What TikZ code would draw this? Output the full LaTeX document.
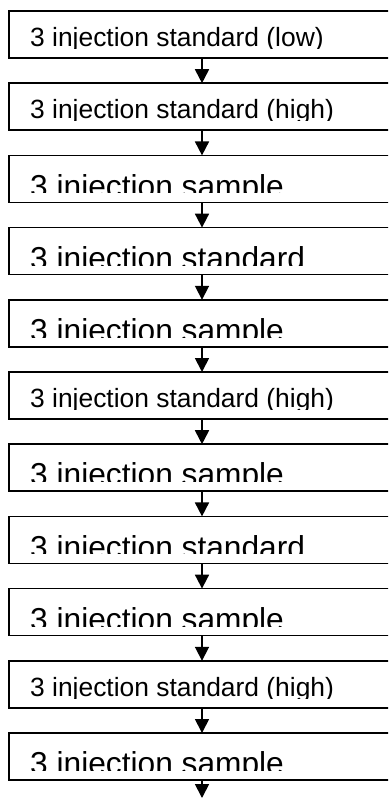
\documentclass[tikz,border=0pt]{standalone}
\usepackage{fontspec}
\setmainfont{Liberation Sans}
\usetikzlibrary{arrows.meta}
\begin{document}
\begin{tikzpicture}[x=1pt,y=-1pt,
  box/.style={draw, line width=1.6pt, minimum width=420pt, minimum height=47pt, anchor=north west, inner sep=0pt, outer sep=0pt},
  small/.style={anchor=base west, inner sep=0pt, font=\fontsize{26.4}{30}\selectfont},
  large/.style={anchor=base west, inner sep=0pt, font=\fontsize{31.7}{36}\selectfont},
  arr/.style={line width=1.8pt, -{Triangle[length=14pt,width=14pt]}}]
\useasboundingbox (0,0) rectangle (388,800);
\clip (0,0) rectangle (388,800);
\foreach \i/\s/\bl/\t in {
  1/small/35.7/{3 injection standard (low)},
  2/small/35.7/{3 injection standard (high)},
  3/large/41.7/{3 injection sample},
  4/large/41.7/{3 injection standard},
  5/large/41.7/{3 injection sample},
  6/small/35.7/{3 injection standard (high)},
  7/large/41.7/{3 injection sample},
  8/large/41.7/{3 injection standard},
  9/large/41.7/{3 injection sample},
  10/small/35.7/{3 injection standard (high)},
  11/large/41.7/{3 injection sample}}{
  \pgfmathsetmacro\tp{11+72.2*(\i-1)}
  \node[box] (b\i) at (9,\tp) {};
  \begin{scope}
    \clip (0,\tp) rectangle (388,\tp+37.5);
    \node[\s] (t\i) at (30,\tp+\bl) {\t};
  \end{scope}
}
\coordinate (ax) at (202,0);
\foreach \i [evaluate=\i as \j using int(\i+1)] in {1,...,10}
  \draw[arr] (b\i.south -| ax) -- (b\j.north -| ax);
\coordinate (end) at (202,798);
\draw[arr] (b11.south -| ax) -- (end);
\end{tikzpicture}
\end{document}
